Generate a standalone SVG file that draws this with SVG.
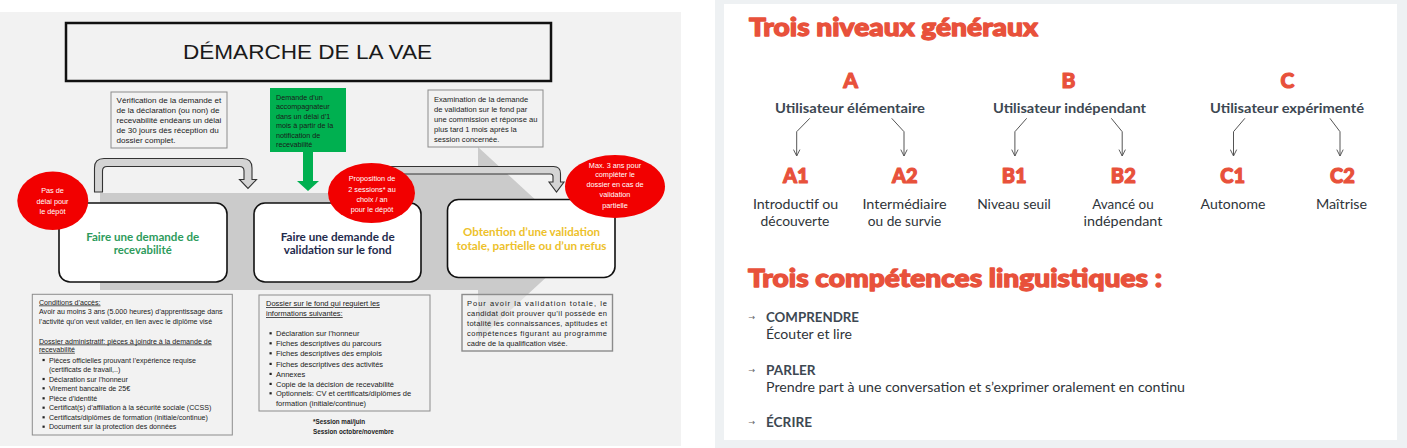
<svg xmlns="http://www.w3.org/2000/svg" width="1407" height="448" viewBox="0 0 1407 448">
<defs>
<style>
.note{fill:#f2f2f2;stroke:#8c8c8c;stroke-width:1}
.t{font-family:"Liberation Sans",Arial,sans-serif;fill:#1a1a1a}
.box{fill:#fff;stroke:#111;stroke-width:1.6}
.bt{font-family:Lato,"Liberation Sans",sans-serif;font-weight:700;font-size:11px;text-anchor:middle}
.red{fill:#f20000}
.rt{font-family:"Liberation Sans",Arial,sans-serif;font-size:7.3px;fill:#fff;text-anchor:middle}
.garrow{fill:#d4d4d4;stroke:#333;stroke-width:1.1}
.u{text-decoration:underline}
.rp{font-family:Lato,"Open Sans",sans-serif}
.h{font-weight:900;fill:#e8513b;stroke:#e8513b;stroke-width:1.3;stroke-linejoin:round;font-size:25px}
.lv{font-weight:900;fill:#e8513b;stroke:#e8513b;stroke-width:1.1;stroke-linejoin:round;text-anchor:middle}
.sub{font-weight:700;fill:#3d4852;font-size:13px;text-anchor:middle}
.desc{font-weight:400;fill:#2f353a;font-size:13px;text-anchor:middle}
.ln{fill:none;stroke:#555;stroke-width:1}
.bul{fill:#222}
</style>
<marker id="chev" viewBox="0 0 10 10" refX="9" refY="5" markerWidth="8" markerHeight="8" markerUnits="userSpaceOnUse" orient="auto"><path d="M1,1 L9,5 L1,9" fill="none" stroke="#555" stroke-width="1.2"/></marker>
</defs>

<!-- backgrounds -->
<rect x="0" y="0" width="1407" height="448" fill="#ffffff"/>
<rect x="0" y="12" width="681" height="434" fill="#f2f2f2"/>
<rect x="715" y="0" width="692" height="448" fill="#eef1f3"/>
<rect x="724" y="4" width="673" height="436" fill="#ffffff"/>

<!-- big gray process arrow -->
<polygon id="process-band" points="100,193 405,193 405,172 478,172 478,147 583,243.5 478,340 478,290 100,290" fill="#cbcbcb"/>

<!-- title -->
<g id="title">
<rect x="66" y="23" width="485" height="58" fill="#f2f2f2" stroke="#111" stroke-width="2.5"/>
<text class="t" x="307.5" y="58.5" font-size="21" text-anchor="middle" textLength="249" lengthAdjust="spacingAndGlyphs">DÉMARCHE DE LA VAE</text>
</g>

<g id="note-verification">
<rect class="note" x="111" y="92" width="116" height="56"/>
<text class="t" font-size="8.1">
<tspan x="116.5" y="103">Vérification de la demande et</tspan>
<tspan x="116.5" y="113">de la déclaration (ou non) de</tspan>
<tspan x="116.5" y="123">recevabilité endéans un délai</tspan>
<tspan x="116.5" y="133">de 30 jours dès réception du</tspan>
<tspan x="116.5" y="143">dossier complet.</tspan>
</text>
</g>

<g id="note-accompagnateur">
<rect x="270" y="88" width="76" height="64" fill="#00b050"/>
<text class="t" font-size="7.2" fill="#1a1a1a">
<tspan x="276" y="99.5">Demande d’un</tspan>
<tspan x="276" y="109">accompagnateur</tspan>
<tspan x="276" y="118.5">dans un délai d’1</tspan>
<tspan x="276" y="128">mois à partir de la</tspan>
<tspan x="276" y="137.5">notification de</tspan>
<tspan x="276" y="147">recevabilité</tspan>
</text>
</g>

<g id="note-examination">
<rect class="note" x="428" y="90" width="115" height="57"/>
<text class="t" font-size="7.6">
<tspan x="434" y="102">Examination de la demande</tspan>
<tspan x="434" y="112">de validation sur le fond par</tspan>
<tspan x="434" y="122">une commission et réponse au</tspan>
<tspan x="434" y="132">plus tard 1 mois après la</tspan>
<tspan x="434" y="142">session concernée.</tspan>
</text>
</g>

<!-- connectors -->
<g id="connectors">
<path class="garrow" d="M94.5,192 L94.5,168 Q94.5,158.5 104,158.5 L242.5,158.5 Q252,158.5 252,168 L252,179.5 L256.5,179.5 L248,188.5 L239.5,179.5 L244,179.5 L244,171 Q244,166.5 239.5,166.5 L107,166.5 Q102.5,166.5 102.5,171 L102.5,192 Z"/>
<path class="garrow" d="M360,193 L360,173 Q360,166.5 366.5,166.5 L553.5,166.5 Q560.5,166.5 560.5,173.5 L560.5,182 L564,182 L556.5,192 L549,182 L553,182 L553,176.5 Q553,174 550.5,174 L369.5,174 Q367,174 367,176.5 L367,193 Z"/>
<polygon points="303,151 313,151 313,181 319,181 308,191 297,181 303,181" fill="#00b050"/>
<path class="ln" marker-end="url(#chev)" d="M809.8,118.3 L796.7,131.7 L796.7,156"/>
<path class="ln" marker-end="url(#chev)" d="M891.7,118.3 L904,131.7 L904,156"/>
<path class="ln" marker-end="url(#chev)" d="M1026.7,118.3 L1014.9,131.7 L1014.9,156"/>
<path class="ln" marker-end="url(#chev)" d="M1111.3,118.3 L1122.2,131.7 L1122.2,156"/>
<path class="ln" marker-end="url(#chev)" d="M1244.9,118.3 L1233.5,131.7 L1233.5,156"/>
<path class="ln" marker-end="url(#chev)" d="M1329.9,118.3 L1340,131.7 L1340,156"/>
</g>

<!-- process boxes -->
<g id="box-recevabilite">
<rect class="box" x="59" y="203" width="168" height="79" rx="11"/>
<text class="bt" fill="#2e9b5c" x="142.7" y="240.5" textLength="113" lengthAdjust="spacingAndGlyphs">Faire une demande de</text>
<text class="bt" fill="#2e9b5c" x="142.7" y="253.5" textLength="58" lengthAdjust="spacingAndGlyphs">recevabilité</text>
</g>
<g id="box-validation">
<rect class="box" x="254" y="203" width="167" height="79" rx="11"/>
<text class="bt" fill="#1f2b4d" x="337.7" y="240.5" textLength="114" lengthAdjust="spacingAndGlyphs">Faire une demande de</text>
<text class="bt" fill="#1f2b4d" x="337.7" y="253.5" textLength="108" lengthAdjust="spacingAndGlyphs">validation sur le fond</text>
</g>
<g id="box-obtention">
<rect class="box" x="447.5" y="199.5" width="167.5" height="78" rx="11"/>
<text class="bt" fill="#edc12b" x="531.5" y="236" textLength="137" lengthAdjust="spacingAndGlyphs">Obtention d’une validation</text>
<text class="bt" fill="#edc12b" x="531.5" y="250" textLength="150" lengthAdjust="spacingAndGlyphs">totale, partielle ou d’un refus</text>
</g>

<!-- red circles -->
<g id="circle-delai">
<ellipse class="red" cx="52.8" cy="200.8" rx="35.5" ry="29.2"/>
<text class="rt"><tspan x="52.5" y="193">Pas de</tspan><tspan x="52.5" y="204">délai pour</tspan><tspan x="52.5" y="214">le dépôt</tspan></text>
</g>
<g id="circle-sessions">
<ellipse class="red" cx="371.5" cy="193" rx="43.5" ry="30"/>
<text class="rt"><tspan x="372" y="181">Proposition de</tspan><tspan x="372" y="191.5">2 sessions* au</tspan><tspan x="372" y="202">choix / an</tspan><tspan x="372" y="212">pour le dépôt</tspan></text>
</g>
<g id="circle-max">
<ellipse class="red" cx="615" cy="186.5" rx="50" ry="31.5"/>
<text class="rt"><tspan x="615" y="167.5">Max. 3 ans pour</tspan><tspan x="615" y="177">compléter le</tspan><tspan x="615" y="187">dossier en cas de</tspan><tspan x="615" y="197">validation</tspan><tspan x="615" y="207.5">partielle</tspan></text>
</g>

<!-- bottom notes -->
<g id="note-conditions">
<rect class="note" x="32.3" y="294.3" width="200" height="140.7" stroke-width="1.4"/>
<text class="t" font-size="7.1">
<tspan class="u" x="39" y="304.5">Conditions d’accès:</tspan>
<tspan x="39" y="314.2">Avoir au moins 3 ans (5.000 heures) d’apprentissage dans</tspan>
<tspan x="39" y="324.2">l’activité qu’on veut valider, en lien avec le diplôme visé</tspan>
<tspan class="u" x="39" y="343.5">Dossier administratif: pièces à joindre à la demande de</tspan>
<tspan class="u" x="39" y="351.8">recevabilité</tspan>
<tspan x="49" y="362.5">Pièces officielles prouvant l’expérience requise</tspan>
<tspan x="49" y="371.8">(certificats de travail,..)</tspan>
<tspan x="49" y="381.5">Déclaration sur l’honneur</tspan>
<tspan x="49" y="390.8">Virement bancaire de 25€</tspan>
<tspan x="49" y="400.8">Pièce d’identité</tspan>
<tspan x="49" y="410.2">Certificat(s) d’affiliation à la sécurité sociale (CCSS)</tspan>
<tspan x="49" y="419.8">Certificats/diplômes de formation (initiale/continue)</tspan>
<tspan x="49" y="429.2">Document sur la protection des données</tspan>
</text>
<rect class="bul" x="42.5" y="358.9" width="2.2" height="2.2"/>
<rect class="bul" x="42.5" y="377.9" width="2.2" height="2.2"/>
<rect class="bul" x="42.5" y="387.2" width="2.2" height="2.2"/>
<rect class="bul" x="42.5" y="397.2" width="2.2" height="2.2"/>
<rect class="bul" x="42.5" y="406.6" width="2.2" height="2.2"/>
<rect class="bul" x="42.5" y="416.2" width="2.2" height="2.2"/>
<rect class="bul" x="42.5" y="425.6" width="2.2" height="2.2"/>
</g>

<g id="note-dossier">
<rect class="note" x="259" y="295" width="171" height="116" stroke-width="1.4"/>
<text class="t" font-size="7.5">
<tspan class="u" x="266" y="306">Dossier sur le fond qui requiert les</tspan>
<tspan class="u" x="266" y="316">informations suivantes:</tspan>
<tspan x="276" y="336">Déclaration sur l’honneur</tspan>
<tspan x="276" y="346">Fiches descriptives du parcours</tspan>
<tspan x="276" y="356">Fiches descriptives des emplois</tspan>
<tspan x="276" y="366.6">Fiches descriptives des activités</tspan>
<tspan x="276" y="376.6">Annexes</tspan>
<tspan x="276" y="386.6">Copie de la décision de recevabilité</tspan>
<tspan x="276" y="396">Optionnels: CV et certificats/diplômes de</tspan>
<tspan x="276" y="406">formation (initiale/continue)</tspan>
</text>
<rect class="bul" x="269.5" y="332.2" width="2.2" height="2.2"/>
<rect class="bul" x="269.5" y="342.2" width="2.2" height="2.2"/>
<rect class="bul" x="269.5" y="352.2" width="2.2" height="2.2"/>
<rect class="bul" x="269.5" y="362.8" width="2.2" height="2.2"/>
<rect class="bul" x="269.5" y="372.8" width="2.2" height="2.2"/>
<rect class="bul" x="269.5" y="382.8" width="2.2" height="2.2"/>
<rect class="bul" x="269.5" y="392.2" width="2.2" height="2.2"/>
</g>

<g id="note-sessions">
<text class="t" font-size="6.3" font-weight="700"><tspan x="313" y="424">*Session mai/juin</tspan><tspan x="313" y="433.5">Session octobre/novembre</tspan></text>
</g>

<g id="note-validation-totale">
<rect x="462" y="294.5" width="150.5" height="56.5" fill="#f2f2f2" fill-opacity="0.55" stroke="#8c8c8c" stroke-width="1.4"/>
<text class="t" font-size="7.5">
<tspan x="467" y="306" textLength="140" lengthAdjust="spacing">Pour avoir la validation totale, le</tspan>
<tspan x="467" y="316" textLength="140" lengthAdjust="spacing">candidat doit prouver qu’il possède en</tspan>
<tspan x="467" y="326" textLength="140" lengthAdjust="spacing">totalité les connaissances, aptitudes et</tspan>
<tspan x="467" y="336" textLength="140" lengthAdjust="spacing">compétences figurant au programme</tspan>
<tspan x="467" y="346">cadre de la qualification visée.</tspan>
</text>
</g>

<!-- right panel -->
<g id="heading-niveaux" class="rp">
<text class="h" x="749" y="36" textLength="289" lengthAdjust="spacingAndGlyphs">Trois niveaux généraux</text>
</g>

<g id="level-A" class="rp">
<text class="lv" x="850.5" y="88" font-size="21">A</text>
<text class="sub" x="850" y="113.3" textLength="150" lengthAdjust="spacingAndGlyphs">Utilisateur élémentaire</text>
</g>
<g id="level-B" class="rp">
<text class="lv" x="1068.5" y="88" font-size="21">B</text>
<text class="sub" x="1069.5" y="113.3" textLength="153" lengthAdjust="spacingAndGlyphs">Utilisateur indépendant</text>
</g>
<g id="level-C" class="rp">
<text class="lv" x="1287.4" y="88" font-size="21">C</text>
<text class="sub" x="1287" y="113.3" textLength="154" lengthAdjust="spacingAndGlyphs">Utilisateur expérimenté</text>
</g>

<g id="level-A1" class="rp">
<text class="lv" x="795.7" y="182.7" font-size="20">A1</text>
<text class="desc" x="795.6" y="208.5" textLength="85.4" lengthAdjust="spacingAndGlyphs">Introductif ou</text>
<text class="desc" x="795" y="226.2" textLength="68.8" lengthAdjust="spacingAndGlyphs">découverte</text>
</g>
<g id="level-A2" class="rp">
<text class="lv" x="904.7" y="182.7" font-size="20">A2</text>
<text class="desc" x="904.5" y="208.5" textLength="84.1" lengthAdjust="spacingAndGlyphs">Intermédiaire</text>
<text class="desc" x="904.5" y="226.2" textLength="73.6" lengthAdjust="spacingAndGlyphs">ou de survie</text>
</g>
<g id="level-B1" class="rp">
<text class="lv" x="1014.2" y="182.7" font-size="20">B1</text>
<text class="desc" x="1014" y="208.5" textLength="73.6" lengthAdjust="spacingAndGlyphs">Niveau seuil</text>
</g>
<g id="level-B2" class="rp">
<text class="lv" x="1123.3" y="182.7" font-size="20">B2</text>
<text class="desc" x="1123" y="208.5" textLength="61.4" lengthAdjust="spacingAndGlyphs">Avancé ou</text>
<text class="desc" x="1123" y="226.2" textLength="78.8" lengthAdjust="spacingAndGlyphs">indépendant</text>
</g>
<g id="level-C1" class="rp">
<text class="lv" x="1232.6" y="182.7" font-size="20">C1</text>
<text class="desc" x="1233" y="208.5" textLength="64.9" lengthAdjust="spacingAndGlyphs">Autonome</text>
</g>
<g id="level-C2" class="rp">
<text class="lv" x="1342.4" y="182.7" font-size="20">C2</text>
<text class="desc" x="1341.5" y="208.5" textLength="51.2" lengthAdjust="spacingAndGlyphs">Maîtrise</text>
</g>

<g id="heading-competences" class="rp">
<text class="h" x="748" y="287" textLength="414" lengthAdjust="spacingAndGlyphs">Trois compétences linguistiques :</text>
</g>

<g id="skill-comprendre" class="rp">
<text x="748.5" y="320" font-family="'DejaVu Sans',sans-serif" font-size="8" fill="#666">→</text>
<text x="766" y="322" font-size="13" font-weight="700" fill="#3d4852" textLength="93" lengthAdjust="spacingAndGlyphs">COMPRENDRE</text>
<text x="766" y="339.4" font-size="13" fill="#2f353a" textLength="86" lengthAdjust="spacingAndGlyphs">Écouter et lire</text>
</g>
<g id="skill-parler" class="rp">
<text x="748.5" y="373" font-family="'DejaVu Sans',sans-serif" font-size="8" fill="#666">→</text>
<text x="766" y="374.5" font-size="13" font-weight="700" fill="#3d4852" textLength="49.5" lengthAdjust="spacingAndGlyphs">PARLER</text>
<text x="766" y="391.8" font-size="13" fill="#2f353a" textLength="419" lengthAdjust="spacingAndGlyphs">Prendre part à une conversation et s’exprimer oralement en continu</text>
</g>
<g id="skill-ecrire" class="rp">
<text x="748.5" y="425" font-family="'DejaVu Sans',sans-serif" font-size="8" fill="#666">→</text>
<text x="766" y="426.7" font-size="13" font-weight="700" fill="#3d4852" textLength="46" lengthAdjust="spacingAndGlyphs">ÉCRIRE</text>
</g>
</svg>
